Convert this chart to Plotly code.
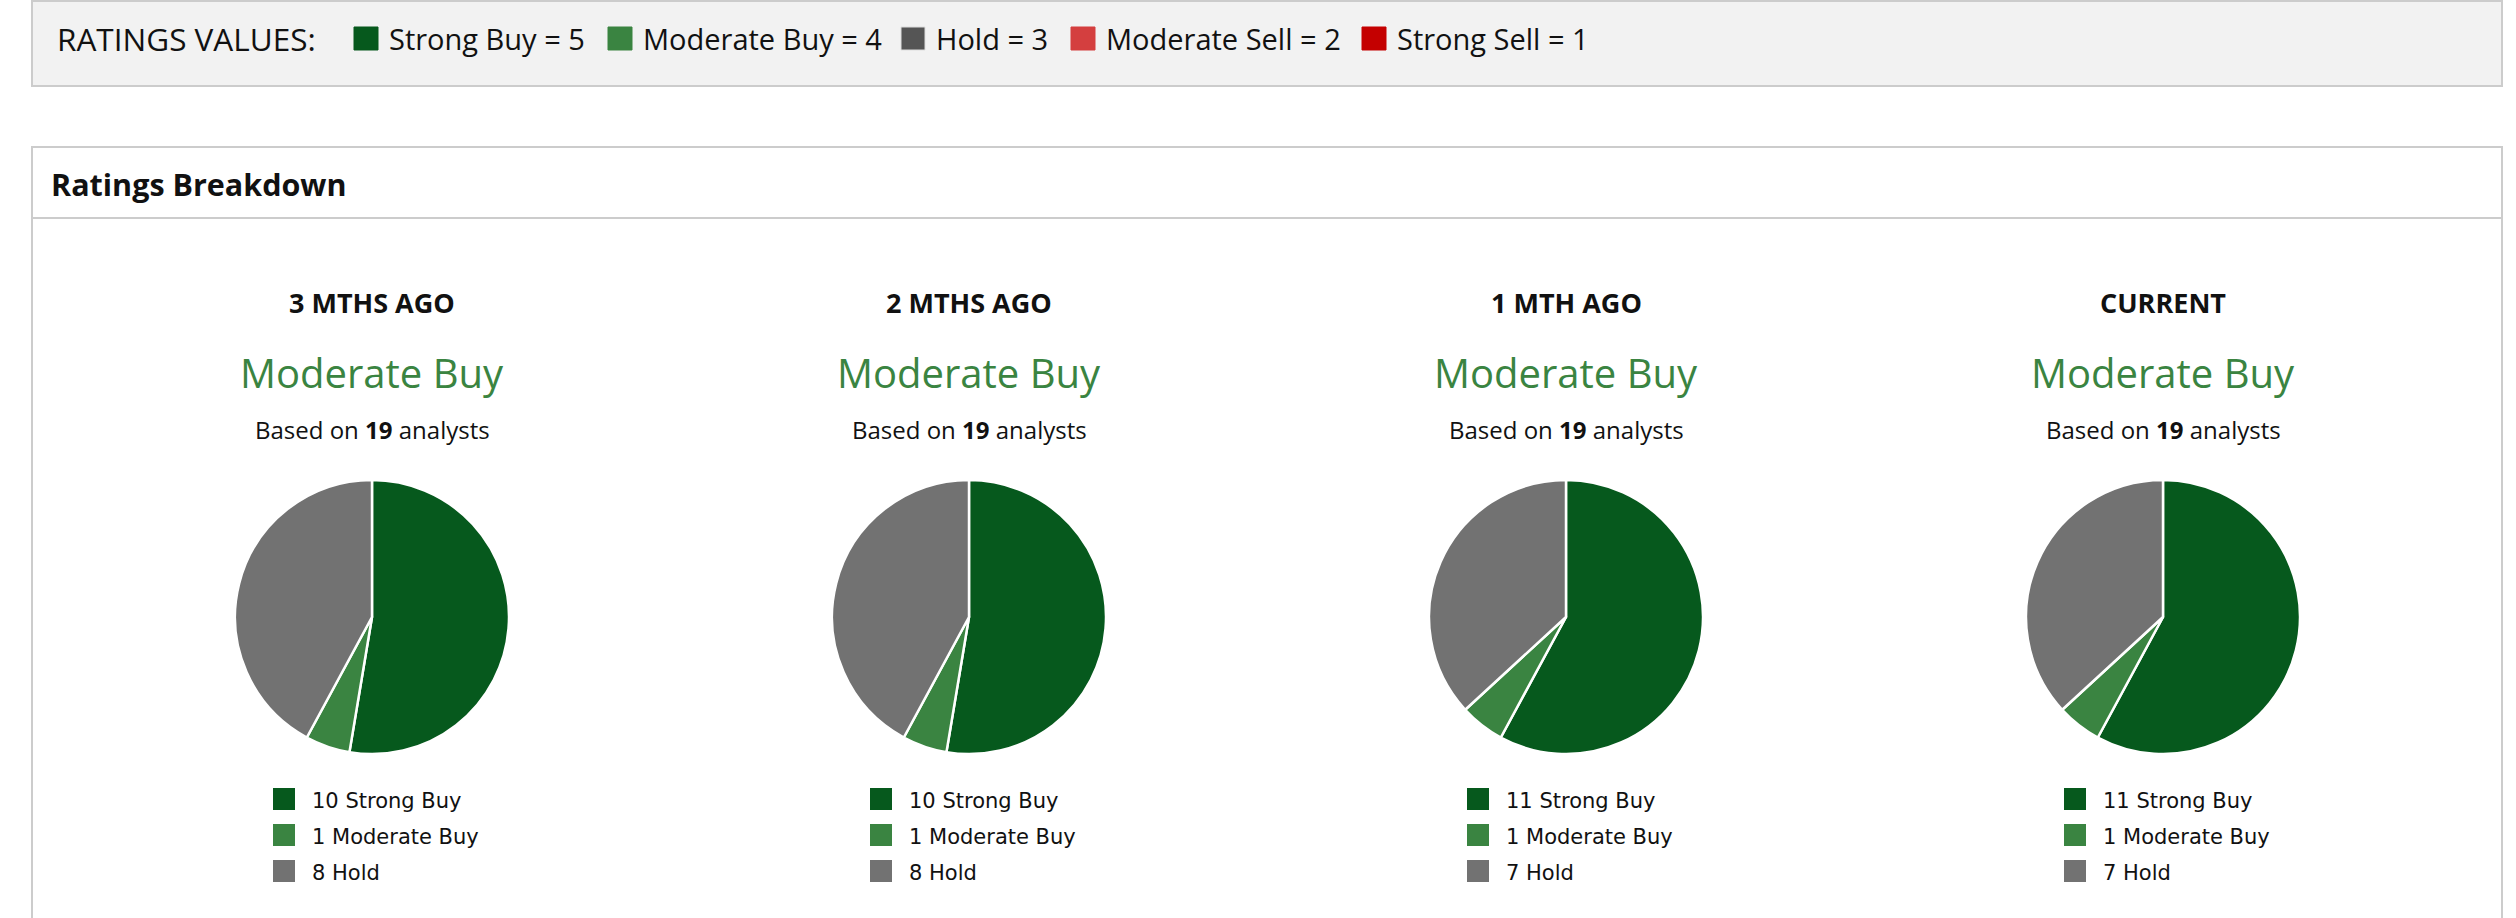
import plotly.graph_objects as go

periods = ["3 MTHS AGO", "2 MTHS AGO", "1 MTH AGO", "CURRENT"]
consensus = ["Moderate Buy", "Moderate Buy", "Moderate Buy", "Moderate Buy"]
analysts = [19, 19, 19, 19]
strong_buy = [10, 10, 11, 11]
moderate_buy = [1, 1, 1, 1]
hold = [8, 8, 7, 7]

slice_names = ["Strong Buy", "Moderate Buy", "Hold"]
rating_names = ["Strong Buy", "Moderate Buy", "Hold", "Moderate Sell", "Strong Sell"]
rating_values = [5, 4, 3, 2, 1]

# cores
SB = "#06591d"
MB = "#3a8441"
HOLD_PIE = "#727272"
HOLD_KEY = "#555555"
MS = "#d43f3f"
SS = "#c40000"
slice_colors = [SB, MB, HOLD_PIE]
key_colors = [SB, MB, HOLD_KEY, MS, SS]

W, H = 2516, 918


def px(x):
    return x / W


def py(y):
    return 1 - y / H


fig = go.Figure()
shapes = []
annotations = []

# faixa superior com os valores das notas
shapes.append(dict(type="rect", xref="paper", yref="paper",
                   x0=px(32), x1=px(2502), y0=py(86), y1=py(1),
                   fillcolor="#f2f2f2", line=dict(color="#cccccc", width=2), layer="below"))
annotations.append(dict(x=px(55), y=py(39), xref="paper", yref="paper",
                        text="RATINGS VALUES:", showarrow=False, xanchor="left", yanchor="middle",
                        font=dict(family="Open Sans", size=31.5, color="#111111")))
key_x = [354, 608, 901, 1071, 1362]
for i, name in enumerate(rating_names):
    x0 = key_x[i]
    shapes.append(dict(type="rect", xref="paper", yref="paper",
                       x0=px(x0), x1=px(x0 + 24), y0=py(50), y1=py(27),
                       fillcolor=key_colors[i],
                       line=dict(color="#dddddd" if name == "Hold" else key_colors[i], width=1)))
    annotations.append(dict(x=px(x0 + 33), y=py(39), xref="paper", yref="paper",
                            text=f"{name} = {rating_values[i]}", showarrow=False,
                            xanchor="left", yanchor="middle",
                            font=dict(family="Open Sans", size=29, color="#111111")))

# painel "Ratings Breakdown"
shapes.append(dict(type="rect", xref="paper", yref="paper",
                   x0=px(32), x1=px(2502), y0=py(930), y1=py(147),
                   fillcolor="rgba(0,0,0,0)", line=dict(color="#cccccc", width=2)))
shapes.append(dict(type="line", xref="paper", yref="paper",
                   x0=px(32), x1=px(2502), y0=py(218), y1=py(218),
                   line=dict(color="#cccccc", width=2)))
annotations.append(dict(x=px(49), y=py(184), xref="paper", yref="paper",
                        text="<b>Ratings Breakdown</b>", showarrow=False,
                        xanchor="left", yanchor="middle",
                        font=dict(family="Open Sans", size=30.5, color="#111111")))

centers = [372, 969, 1566, 2163]
cy, r = 617, 137

for i, period in enumerate(periods):
    cx = centers[i]
    vals = [strong_buy[i], moderate_buy[i], hold[i]]
    fig.add_trace(go.Pie(
        values=vals, labels=slice_names, sort=False, direction="clockwise", rotation=0,
        marker=dict(colors=slice_colors, line=dict(color="white", width=2.5)),
        textinfo="none", showlegend=False, hoverinfo="label+value",
        domain=dict(x=[px(cx - r), px(cx + r)], y=[py(cy + r), py(cy - r)]),
    ))
    annotations.append(dict(x=px(cx), y=py(302), xref="paper", yref="paper",
                            text=f"<b>{period}</b>", showarrow=False,
                            xanchor="center", yanchor="middle",
                            font=dict(family="Open Sans", size=27, color="#111111")))
    annotations.append(dict(x=px(cx), y=py(372), xref="paper", yref="paper",
                            text=consensus[i], showarrow=False,
                            xanchor="center", yanchor="middle",
                            font=dict(family="Open Sans", size=40, color=MB)))
    annotations.append(dict(x=px(cx), y=py(430), xref="paper", yref="paper",
                            text=f"Based on <b>{analysts[i]}</b> analysts", showarrow=False,
                            xanchor="center", yanchor="middle",
                            font=dict(family="Open Sans", size=24, color="#111111")))
    # legenda de cada pizza
    for j, name in enumerate(slice_names):
        yc = 799 + 36 * j
        shapes.append(dict(type="rect", xref="paper", yref="paper",
                           x0=px(cx - 99), x1=px(cx - 77), y0=py(yc + 11), y1=py(yc - 11),
                           fillcolor=slice_colors[j], line=dict(width=0)))
        annotations.append(dict(x=px(cx - 62), y=py(yc + 1.5), xref="paper", yref="paper",
                                text=f"{vals[j]} {name}", showarrow=False,
                                xanchor="left", yanchor="middle",
                                font=dict(family="DejaVu Sans", size=21, color="#111111")))

fig.update_layout(
    width=W, height=H,
    margin=dict(l=0, r=0, t=0, b=0),
    paper_bgcolor="white", plot_bgcolor="white",
    shapes=shapes, annotations=annotations,
)

fig.write_html("out.html", config={"displayModeBar": False},
               post_script="document.body.style.margin='0';")
